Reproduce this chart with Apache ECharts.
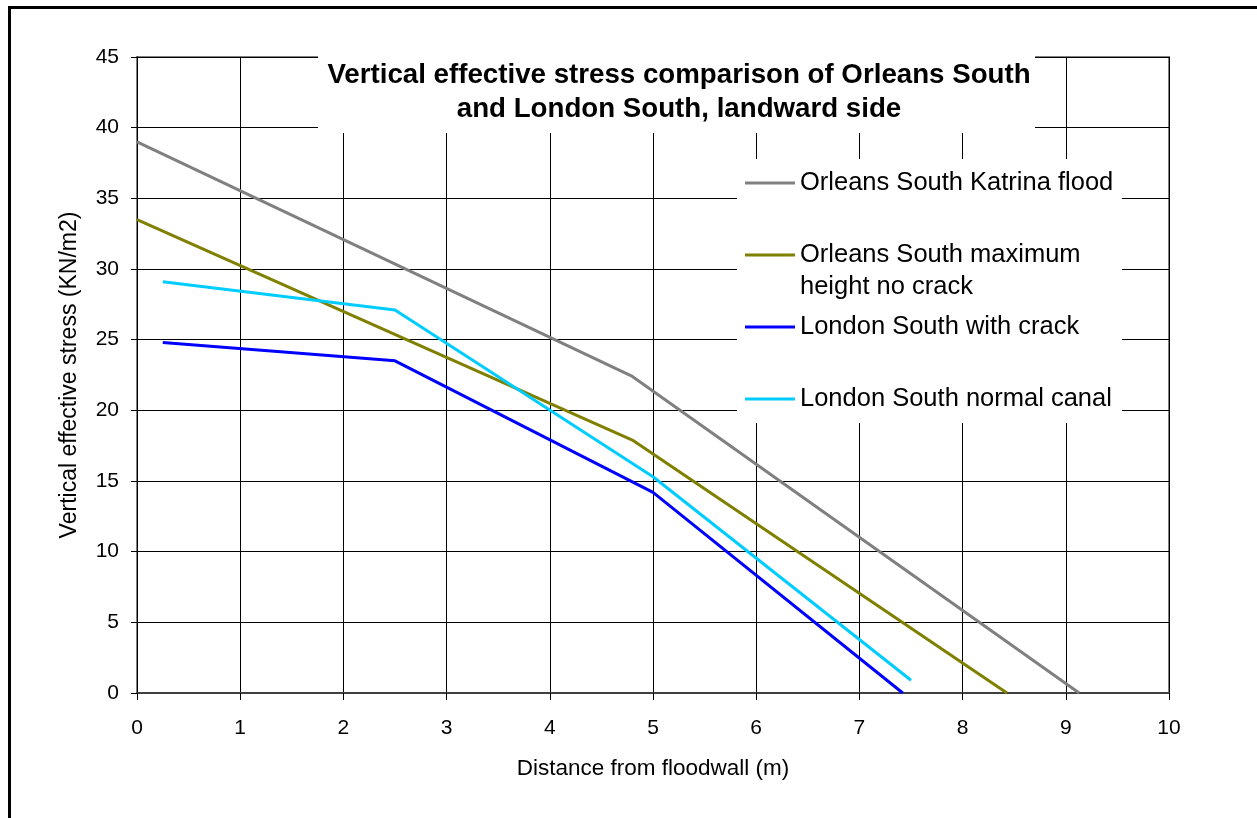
<!DOCTYPE html>
<html>
<head>
<meta charset="utf-8">
<script src="https://cdn.jsdelivr.net/npm/echarts@6/dist/echarts.min.js"></script>
<style>
html,body{margin:0;padding:0;background:#fff;}
#chart{width:1257px;height:818px;}
</style>
</head>
<body>
<div id="chart"></div>
<script>
// ---- data ----
const titleText = 'Vertical effective stress comparison of Orleans South\nand London South, landward side';
const xAxisName = 'Distance from floodwall (m)';
const yAxisName = 'Vertical effective stress (KN/m2)';
const seriesNames = [
  'Orleans South Katrina flood',
  'Orleans South maximum height no crack',
  'London South with crack',
  'London South normal canal'
];
const legendLines = [
  ['Orleans South Katrina flood'],
  ['Orleans South maximum', 'height no crack'],
  ['London South with crack'],
  ['London South normal canal']
];
const seriesColors = ['#808080', '#808000', '#0000FF', '#00CCFF'];
const katrinaX = [0, 4.8, 9.13];
const katrinaY = [39.0, 22.4, 0];
const maxHeightX = [0, 4.8, 8.43];
const maxHeightY = [33.5, 17.9, 0];
const crackX = [0.25, 2.5, 5.0, 7.42];
const crackY = [24.8, 23.5, 14.2, 0];
const normalX = [0.25, 2.5, 5.0, 7.5];
const normalY = [29.1, 27.1, 15.3, 0.9];

const pairs = (xs, ys) => xs.map((x, i) => [x, ys[i]]);
const seriesData = [
  pairs(katrinaX, katrinaY),
  pairs(maxHeightX, maxHeightY),
  pairs(crackX, crackY),
  pairs(normalX, normalY)
];

const FONT = '"Liberation Sans", Arial, sans-serif';
const chart = echarts.init(document.getElementById('chart'), null, {renderer: 'canvas'});

const LH = 32;
const legendCenters = [183, 255, 327, 399];
const legends = legendLines.map((lines, i) => {
  const multi = lines.length > 1;
  // for a two-line label, add a blank first line so the icon lines up with the first text line
  const label = multi ? ' \n' + lines.join('\n') : lines[0];
  return {
    left: 745,
    top: multi ? legendCenters[i] - LH * 1.5 : legendCenters[i] - LH / 2,
    padding: 0,
    orient: 'vertical',
    icon: 'rect',
    itemWidth: 50,
    itemHeight: 3,
    data: [seriesNames[i]],
    formatter: () => label,
    textStyle: {fontFamily: FONT, fontSize: 25.5, color: '#000', lineHeight: LH},
    selectedMode: false
  };
});

const option = {
  backgroundColor: '#fff',
  animation: false,
  title: {
    text: titleText,
    left: 679,
    top: 58,
    textAlign: 'center',
    padding: 0,
    textStyle: {fontFamily: FONT, fontSize: 27.7, fontWeight: 'bold', color: '#000', lineHeight: 34}
  },
  legend: legends,
  grid: {
    left: 137, right: 88, top: 57, bottom: 125,
    show: true, borderColor: '#808080', borderWidth: 2, backgroundColor: 'transparent'
  },
  graphic: [
    {type: 'rect', z: 1, shape: {x: 318, y: 48, width: 717, height: 85}, style: {fill: '#fff'}},
    {type: 'rect', z: 1, shape: {x: 737, y: 159, width: 385, height: 264}, style: {fill: '#fff'}},
    {type: 'rect', z: 10, shape: {x: 9.5, y: 7.5, width: 1400, height: 1000}, style: {fill: 'none', stroke: '#000', lineWidth: 3}}
  ],
  xAxis: {
    type: 'value', min: 0, max: 10, interval: 1,
    name: xAxisName, nameLocation: 'middle', nameGap: 64,
    nameTextStyle: {fontFamily: FONT, fontSize: 22.5, color: '#000'},
    axisLine: {show: true, lineStyle: {color: '#404040', width: 2}},
    axisTick: {show: true, length: 7, lineStyle: {color: '#000'}},
    axisLabel: {fontFamily: FONT, fontSize: 21, color: '#000', margin: 25},
    splitLine: {show: true, lineStyle: {color: '#000', width: 1}}
  },
  yAxis: {
    type: 'value', min: 0, max: 45, interval: 5,
    name: yAxisName, nameLocation: 'middle', nameGap: 56,
    nameTextStyle: {fontFamily: FONT, fontSize: 23, color: '#000'},
    axisLine: {show: true, lineStyle: {color: '#000', width: 1}},
    axisTick: {show: true, length: 6, lineStyle: {color: '#000'}},
    axisLabel: {fontFamily: FONT, fontSize: 21, color: '#000', margin: 18},
    splitLine: {show: true, lineStyle: {color: '#000', width: 1}}
  },
  series: seriesNames.map((name, i) => ({
    name: name,
    type: 'line',
    data: seriesData[i],
    symbol: 'none',
    z: 2,
    itemStyle: {color: seriesColors[i]},
    lineStyle: {color: seriesColors[i], width: 3}
  }))
};
chart.setOption(option);
</script>
</body>
</html>
